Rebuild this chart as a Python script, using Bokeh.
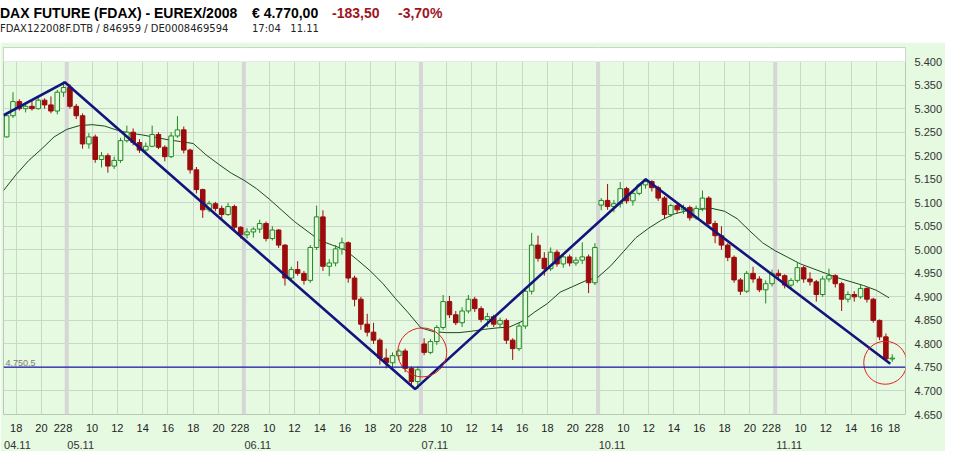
from bokeh.plotting import figure
from bokeh.models import FixedTicker, LinearAxis, Span, Label, Div, Range1d, BoxAnnotation
from bokeh.layouts import column
from bokeh.embed import file_html
from bokeh.resources import INLINE

# ---------------- data (30-minute candles) ----------------
dates = ["04.11", "05.11", "06.11", "07.11", "10.11", "11.11"]
day_first_hour = [17, 8, 8, 8, 8, 8]
day_last_label = [22, 22, 22, 22, 22, 18]
day_open = [5240, 5345, 5032, 4800, 5095, 4950]

highs_0 = [5290, 5335, 5320, 5312, 5318, 5326, 5322, 5326, 5340, 5358]
lows_0 = [5238, 5280, 5296, 5292, 5296, 5298, 5300, 5290, 5288, 5325]
closes_0 = [5285, 5315, 5300, 5305, 5300, 5318, 5308, 5295, 5335, 5345]

highs_1 = [5352, 5310, 5290, 5248, 5245, 5208, 5205, 5198, 5238, 5264, 5258, 5235, 5228, 5264,
           5250, 5222, 5250, 5284, 5262, 5215, 5176, 5130, 5104, 5102, 5094, 5100, 5096, 5050]
lows_1 = [5300, 5278, 5215, 5215, 5185, 5175, 5164, 5172, 5185, 5228, 5222, 5206, 5204, 5218,
          5214, 5188, 5195, 5238, 5205, 5162, 5120, 5068, 5080, 5082, 5062, 5072, 5040, 5024]
closes_1 = [5305, 5285, 5225, 5240, 5192, 5200, 5178, 5190, 5232, 5250, 5228, 5212, 5220, 5245,
            5218, 5198, 5242, 5255, 5212, 5170, 5128, 5085, 5098, 5088, 5075, 5092, 5048, 5032]

highs_2 = [5046, 5048, 5064, 5060, 5050, 5044, 5012, 4964, 4976, 4955, 5010, 5094, 5084, 4980,
           5010, 5026, 5018, 4945, 4900, 4864, 4845, 4812, 4790, 4782, 4790, 4790, 4752, 4752]
lows_2 = [5024, 5026, 5036, 5018, 5020, 5004, 4924, 4935, 4945, 4926, 4930, 5000, 4955, 4944,
          4965, 4990, 4930, 4880, 4830, 4816, 4800, 4756, 4748, 4744, 4765, 4740, 4712, 4704]
closes_2 = [5038, 5044, 5056, 5024, 5042, 5010, 4940, 4958, 4950, 4935, 5005, 5070, 4965, 4972,
            5002, 5015, 4940, 4895, 4842, 4825, 4808, 4770, 4760, 4775, 4785, 4748, 4720, 4745]

highs_3 = [4812, 4810, 4840, 4904, 4902, 4870, 4878, 4904, 4900, 4880, 4866, 4862, 4856, 4854,
           4812, 4845, 4920, 5036, 5030, 4995, 5005, 5000, 4990, 4990, 4985, 5016, 4990, 5014]
lows_3 = [4776, 4778, 4798, 4830, 4855, 4840, 4836, 4865, 4868, 4846, 4836, 4836, 4834, 4800,
          4766, 4785, 4832, 4905, 4975, 4945, 4955, 4964, 4962, 4965, 4966, 4970, 4908, 4925]
closes_3 = [4782, 4805, 4835, 4890, 4862, 4845, 4870, 4895, 4875, 4852, 4858, 4842, 4850, 4808,
            4790, 4838, 4912, 5010, 4982, 4960, 4995, 4970, 4985, 4972, 4978, 4985, 4930, 5005]

highs_4 = [5110, 5140, 5106, 5144, 5134, 5126, 5142, 5152, 5148, 5136, 5114, 5098, 5100, 5096,
           5094, 5094, 5126, 5114, 5062, 5050, 5014, 4988, 4940, 4955, 4964, 4944, 4935, 4958]
lows_4 = [5084, 5085, 5080, 5090, 5098, 5094, 5116, 5130, 5124, 5104, 5066, 5070, 5078, 5076,
          5062, 5064, 5082, 5050, 5014, 5000, 4976, 4930, 4904, 4908, 4930, 4910, 4886, 4922]
closes_4 = [5105, 5092, 5098, 5130, 5104, 5120, 5138, 5145, 5132, 5110, 5075, 5094, 5085, 5090,
            5068, 5088, 5110, 5056, 5030, 5010, 4984, 4936, 4912, 4950, 4938, 4915, 4928, 4950]

highs_5 = [4958, 4948, 4940, 4974, 4966, 4952, 4936, 4944, 4960, 4948, 4932, 4912, 4912, 4926,
           4920, 4898, 4852, 4822, 4778]
lows_5 = [4936, 4918, 4915, 4930, 4930, 4924, 4890, 4900, 4932, 4920, 4870, 4888, 4890, 4896,
          4888, 4845, 4808, 4764, 4762]
closes_5 = [4945, 4925, 4935, 4962, 4938, 4932, 4905, 4938, 4945, 4928, 4895, 4905, 4900, 4918,
            4895, 4850, 4815, 4768, 4770]

# moving average, hourly (trading time) from 04.11 17:00
ma_start = "04.11 17:00"
ma_values = [5126, 5160, 5190, 5214, 5240, 5256, 5264, 5266, 5263, 5254, 5248, 5244, 5239, 5234,
             5230, 5226, 5202, 5182, 5163, 5148, 5130, 5108, 5084, 5060, 5040, 5020, 5010, 5000,
             4978, 4955, 4928, 4896, 4866, 4834, 4826, 4824, 4824, 4827, 4831, 4834, 4836, 4848,
             4868, 4886, 4910, 4922, 4934, 4942, 4966, 4996, 5026, 5046, 5063, 5076, 5083, 5086,
             5088, 5082, 5066, 5040, 5015, 4998, 4984, 4970, 4960, 4950, 4940, 4932, 4924, 4914,
             4898]

trend_times = ["04.11 17:00", "04.11 21:51", "06.11 21:32", "10.11 11:46", "11.11 17:06"]
trend_prices = [5286, 5356, 4704, 5150, 4758]

support_level = 4750.5
support_label = "4.750,5"

circle_times = ["07.11 08:06", "11.11 16:42"]
circle_prices = [4782, 4760]

y_ticks = [4650, 4700, 4750, 4800, 4850, 4900, 4950, 5000, 5050, 5100, 5150, 5200, 5250, 5300,
           5350, 5400]
y_labels = ["4.650", "4.700", "4.750", "4.800", "4.850", "4.900", "4.950", "5.000", "5.050",
            "5.100", "5.150", "5.200", "5.250", "5.300", "5.350", "5.400"]

title_name = "DAX FUTURE (FDAX) - EUREX/2008"
title_price = "€ 4.770,00"
title_change = "-183,50"
title_pct = "-3,70%"
sub_ids = "FDAX122008F.DTB / 846959 / DE0008469594"
sub_time = "17:04&nbsp;&nbsp;&nbsp;11.11"

# ---------------- helpers ----------------
BG = "#E6F9E1"
GRID = "#C9D7C9"
DAYLINE = "#D6D6D6"
UP = "#1F8A1F"
DOWN = "#9C0C0C"


def tpos(stamp):
    day, hm = stamp.split()
    h, m = hm.split(":")
    return dates.index(day) * 14 + int(h) + int(m) / 60 - 8


day_highs = [highs_0, highs_1, highs_2, highs_3, highs_4, highs_5]
day_lows = [lows_0, lows_1, lows_2, lows_3, lows_4, lows_5]
day_closes = [closes_0, closes_1, closes_2, closes_3, closes_4, closes_5]

xs, opens, highs, lows, closes = [], [], [], [], []
for d in range(len(dates)):
    prev = day_open[d]
    for i, (h, l, c) in enumerate(zip(day_highs[d], day_lows[d], day_closes[d])):
        xs.append(d * 14 + day_first_hour[d] - 8 + 0.5 * i + 0.25)
        opens.append(prev)
        highs.append(h)
        lows.append(l)
        closes.append(c)
        prev = c

up_i = [i for i in range(len(xs)) if closes[i] >= opens[i]]
dn_i = [i for i in range(len(xs)) if closes[i] < opens[i]]

# ---------------- figure ----------------
p = figure(width=945, height=409, x_range=Range1d(9.0, 80.3), y_range=Range1d(4650, 5430),
           y_axis_location="right", output_backend="svg", toolbar_location=None,
           min_border_left=3, min_border_top=5, min_border_right=2, min_border_bottom=0,
           background_fill_color=BG, border_fill_color=BG, outline_line_color="#B9C9B9")

# grid
grid_ticks = []
for d in range(len(dates)):
    for h in range(10, 22, 2):
        if h > day_first_hour[d] and h < day_last_label[d]:
            grid_ticks.append(d * 14 + h - 8)
p.xgrid.ticker = FixedTicker(ticks=grid_ticks)
p.ygrid.ticker = FixedTicker(ticks=y_ticks)
p.xgrid.grid_line_color = GRID
p.ygrid.grid_line_color = GRID

for d in range(1, len(dates)):
    p.add_layout(Span(location=d * 14, dimension="height", line_color=DAYLINE, line_width=4,
                      level="underlay"))

p.add_layout(BoxAnnotation(bottom=y_ticks[-1], fill_color="white", fill_alpha=1.0,
                           line_color=None, level="underlay"))

# moving average
ma_x = [tpos(ma_start) + k for k in range(len(ma_values))]
p.line(ma_x, ma_values, line_color="#1B4A1B", line_width=1)

# candles
p.segment(x0=[xs[i] for i in dn_i], y0=[lows[i] for i in dn_i], x1=[xs[i] for i in dn_i],
          y1=[highs[i] for i in dn_i], line_color=DOWN, line_width=1)
p.segment(x0=[xs[i] for i in up_i], y0=[lows[i] for i in up_i], x1=[xs[i] for i in up_i],
          y1=[highs[i] for i in up_i], line_color=UP, line_width=1)
p.vbar(x=[xs[i] for i in dn_i], width=0.36, top=[opens[i] for i in dn_i],
       bottom=[closes[i] for i in dn_i], fill_color=DOWN, line_color=DOWN)
p.vbar(x=[xs[i] for i in up_i], width=0.36, top=[closes[i] for i in up_i],
       bottom=[opens[i] for i in up_i], fill_color=BG, line_color=UP)

# trend lines, support line, circles
p.line([tpos(t) for t in trend_times], trend_prices, line_color="#14147E", line_width=2.6)
p.add_layout(Span(location=support_level, dimension="width", line_color="#1A1AA8", line_width=1.3))
p.add_layout(Label(x=9.15, y=support_level, text=support_label, text_font_size="9px",
                   text_color="#7A7A7A", text_baseline="bottom", y_offset=1,
                   text_font="Liberation Sans"))
p.scatter([tpos(t) for t in circle_times], circle_prices, size=[49, 43], marker="circle",
          fill_alpha=0, line_color="#DD2222", line_width=1)

# y axis (right)
ya = p.yaxis[0]
ya.ticker = FixedTicker(ticks=y_ticks)
ya.major_label_overrides = dict(zip(y_ticks, y_labels))
ya.major_tick_line_color = None
ya.minor_tick_line_color = None
ya.axis_line_color = None
ya.major_label_standoff = 3
ya.major_label_text_font = "Liberation Sans"
ya.major_label_text_font_size = "11px"
ya.major_label_text_color = "#333333"

# x axis: hours
hour_ticks, hour_over = [], {}
for d in range(len(dates)):
    start = day_first_hour[d] + (day_first_hour[d] % 2)
    for h in range(start, day_last_label[d] + 1, 2):
        pos = d * 14 + h - 8
        if h == 22:
            pos -= 0.55
        elif h == 8 and d > 0:
            pos += 0.2
        elif d == len(dates) - 1 and h == day_last_label[d]:
            pos -= 0.6
        hour_ticks.append(pos)
        hour_over[pos] = str(h)
xa = p.xaxis[0]
xa.ticker = FixedTicker(ticks=hour_ticks)
xa.major_label_overrides = hour_over
xa.major_tick_line_color = None
xa.minor_tick_line_color = None
xa.axis_line_color = None
xa.major_label_standoff = 3
xa.major_label_text_font = "Liberation Sans"
xa.major_label_text_font_size = "11px"
xa.major_label_text_color = "#222222"

# x axis: dates
date_ticks = [d * 14 + day_first_hour[d] - 8 + 1.1 for d in range(len(dates))]
da = LinearAxis(ticker=FixedTicker(ticks=date_ticks),
                major_label_overrides=dict(zip(date_ticks, dates)))
da.major_tick_line_color = None
da.minor_tick_line_color = None
da.axis_line_color = None
da.major_label_standoff = 0
da.major_label_text_font = "Liberation Sans"
da.major_label_text_font_size = "11px"
da.major_label_text_color = "#333333"
p.add_layout(da, "below")

# header
header_html = f"""
<div style="position:relative;width:945px;height:42px;background:white;font-family:'Liberation Sans',Arial,sans-serif;">
  <span style="position:absolute;left:0px;top:3px;font-size:14px;font-weight:bold;color:#000;white-space:pre;">{title_name}</span>
  <span style="position:absolute;left:252px;top:3px;font-size:14px;font-weight:bold;color:#000;white-space:pre;">{title_price}</span>
  <span style="position:absolute;left:332px;top:3px;font-size:14px;font-weight:bold;color:#A0141E;white-space:pre;">{title_change}</span>
  <span style="position:absolute;left:398px;top:3px;font-size:14px;font-weight:bold;color:#A0141E;white-space:pre;">{title_pct}</span>
  <span style="position:absolute;left:0px;top:22px;font-family:'DejaVu Sans',sans-serif;font-size:10px;color:#222;white-space:pre;">{sub_ids}</span>
  <span style="position:absolute;left:252px;top:22px;font-family:'DejaVu Sans',sans-serif;font-size:10px;color:#222;white-space:pre;">{sub_time}</span>
</div>
"""
header = Div(text=header_html, width=945, height=42, margin=(0, 0, 0, 0))

layout = column(header, p, spacing=0)
open("out.html", "w").write(file_html(layout, INLINE))
